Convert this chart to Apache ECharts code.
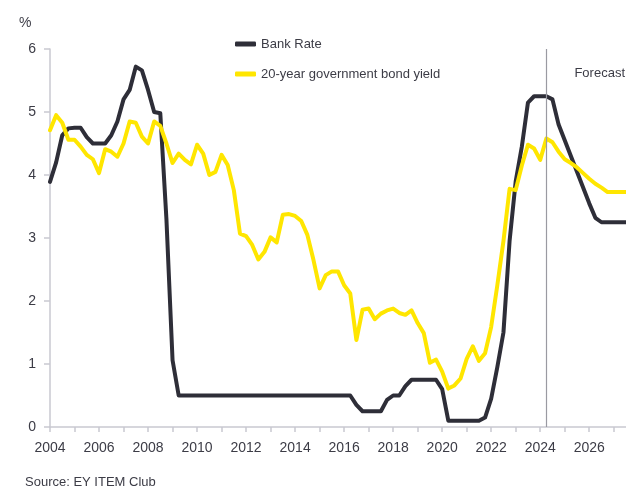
<!DOCTYPE html>
<html>
<head>
<meta charset="utf-8">
<script src="https://cdn.jsdelivr.net/npm/echarts@6/dist/echarts.min.js"></script>
<style>
  html, body { margin: 0; padding: 0; background: #fff; }
  #chart { width: 626px; height: 489px; }
</style>
</head>
<body>
<div id="chart"></div>
<script>
// quarterly data, 2004 Q1 .. 2027 Q3
const startYear = 2004;
const endYear = 2027;
const lastQuarter = 3;

const bankRate = [
  3.89, 4.2, 4.63, 4.74,
  4.75, 4.75, 4.6, 4.5,
  4.5, 4.5, 4.63, 4.85,
  5.2, 5.35, 5.72, 5.66,
  5.35, 5.0, 4.98, 3.3,
  1.06, 0.5, 0.5, 0.5,
  0.5, 0.5, 0.5, 0.5,
  0.5, 0.5, 0.5, 0.5,
  0.5, 0.5, 0.5, 0.5,
  0.5, 0.5, 0.5, 0.5,
  0.5, 0.5, 0.5, 0.5,
  0.5, 0.5, 0.5, 0.5,
  0.5, 0.5, 0.35, 0.25,
  0.25, 0.25, 0.25, 0.43,
  0.5, 0.5, 0.65, 0.75,
  0.75, 0.75, 0.75, 0.75,
  0.6, 0.1, 0.1, 0.1,
  0.1, 0.1, 0.1, 0.15,
  0.45, 0.95, 1.5, 2.95,
  3.9, 4.45, 5.15, 5.25,
  5.25, 5.25, 5.2, 4.8,
  4.55, 4.3, 4.05, 3.8,
  3.55, 3.32, 3.25, 3.25,
  3.25, 3.25, 3.25
];

const bondYield = [
  4.71, 4.95, 4.83, 4.56,
  4.56, 4.45, 4.32, 4.25,
  4.03, 4.41, 4.37, 4.29,
  4.5, 4.85, 4.83, 4.61,
  4.5, 4.85, 4.78, 4.5,
  4.19, 4.34, 4.24, 4.17,
  4.48, 4.34, 4.0, 4.05,
  4.32, 4.16, 3.76, 3.07,
  3.03, 2.89, 2.66, 2.78,
  3.01, 2.93, 3.37, 3.38,
  3.35, 3.27, 3.05, 2.65,
  2.2, 2.41, 2.47, 2.47,
  2.25, 2.12, 1.38, 1.86,
  1.88, 1.71, 1.8, 1.85,
  1.88, 1.81, 1.78, 1.85,
  1.65, 1.49, 1.02, 1.07,
  0.88, 0.61, 0.66, 0.77,
  1.08, 1.28, 1.05, 1.17,
  1.59, 2.25, 2.95, 3.78,
  3.76, 4.15, 4.48, 4.42,
  4.24, 4.58, 4.52, 4.37,
  4.25, 4.19, 4.12, 4.03,
  3.94, 3.86, 3.8, 3.73,
  3.73, 3.73, 3.73
];

const forecastStart = '2024 Q2';

const quarters = [];
for (let y = startYear; y <= endYear; y++) {
  for (let q = 1; q <= 4; q++) {
    if (y === endYear && q > lastQuarter) break;
    quarters.push(y + ' Q' + q);
  }
}

const chart = echarts.init(document.getElementById('chart'));
const font = '"Liberation Sans", Arial, sans-serif';
const textColor = '#3c3c46';
const axisColor = '#c9c9d1';

const option = {
  animation: false,
  textStyle: { fontFamily: font },
  grid: { left: 50, right: 0, top: 49, bottom: 62, containLabel: false },
  legend: {
    orient: 'vertical',
    left: 230,
    top: 31,
    icon: 'roundRect',
    itemWidth: 21,
    itemHeight: 5,
    itemGap: 14,
    textStyle: { fontSize: 13, color: textColor, fontFamily: font, lineHeight: 16 },
    data: ['Bank Rate', '20-year government bond yield']
  },
  xAxis: {
    type: 'category',
    data: quarters,
    boundaryGap: false,
    axisLine: { lineStyle: { color: axisColor, width: 1.5 } },
    axisTick: { show: true, interval: 3, length: 5, lineStyle: { color: axisColor, width: 1.5 } },
    axisLabel: {
      interval: 7,
      margin: 14,
      fontSize: 14,
      color: textColor,
      fontFamily: font,
      formatter: v => v.slice(0, 4)
    },
    splitLine: { show: false }
  },
  yAxis: {
    type: 'value',
    min: 0,
    max: 6,
    interval: 1,
    axisLine: { show: true, lineStyle: { color: axisColor, width: 1.5 } },
    axisTick: { show: true, length: 6, lineStyle: { color: axisColor, width: 1.5 } },
    axisLabel: { margin: 14, fontSize: 14, color: textColor, fontFamily: font },
    splitLine: { show: false }
  },
  series: [
    {
      name: 'Bank Rate',
      type: 'line',
      data: bankRate,
      symbol: 'none',
      itemStyle: { color: '#2e2e38' },
      lineStyle: { color: '#2e2e38', width: 4, cap: 'round', join: 'round' },
      markLine: {
        silent: true,
        symbol: 'none',
        label: { show: false },
        lineStyle: { color: '#9a9aa2', width: 1.2, type: 'solid' },
        data: [{ xAxis: forecastStart }]
      },
      z: 2
    },
    {
      name: '20-year government bond yield',
      type: 'line',
      data: bondYield,
      symbol: 'none',
      itemStyle: { color: '#ffe600' },
      lineStyle: { color: '#ffe600', width: 4, cap: 'round', join: 'round' },
      z: 3
    }
  ],
  graphic: [
    { type: 'text', left: 19, top: 16, style: { text: '%', fontSize: 14, fill: textColor, fontFamily: font } },
    { type: 'text', right: 1, top: 67, style: { text: 'Forecast', fontSize: 13, fill: textColor, fontFamily: font } },
    { type: 'text', left: 25, top: 476, style: { text: 'Source: EY ITEM Club', fontSize: 13, fill: textColor, fontFamily: font } }
  ]
};

chart.setOption(option);
</script>
</body>
</html>
